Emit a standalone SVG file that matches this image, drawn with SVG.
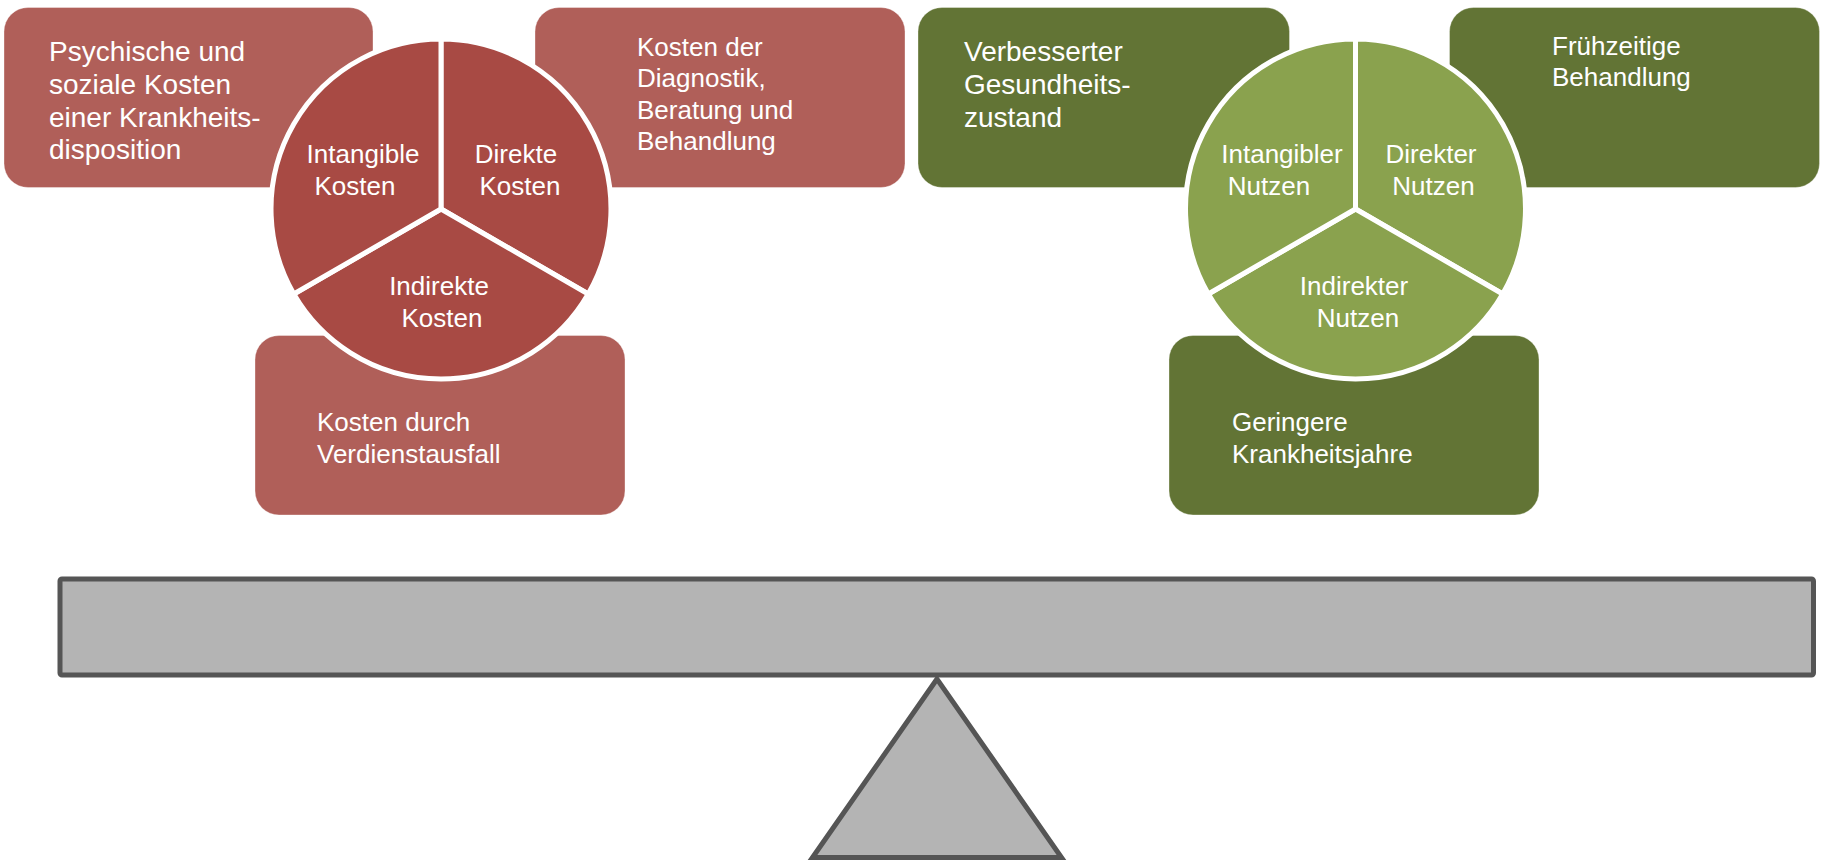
<svg xmlns="http://www.w3.org/2000/svg" width="1823" height="861" viewBox="0 0 1823 861">
<style>
.t{font-family:"Liberation Sans",Arial,sans-serif;fill:#ffffff}
.s26{font-size:26px}
.s28{font-size:28px}
.m{text-anchor:middle}
.rbox{fill:#B05F59;stroke:#ffffff;stroke-opacity:0.35;stroke-width:1}
.gbox{fill:#627435;stroke:#ffffff;stroke-opacity:0.35;stroke-width:1}
.rpie{fill:#A84A44;stroke:#ffffff;stroke-width:5;stroke-linejoin:round}
.gpie{fill:#8AA24E;stroke:#ffffff;stroke-width:5;stroke-linejoin:round}
.base{fill:#B4B4B4;stroke:#555555;stroke-width:5}
</style>
<rect width="1823" height="861" fill="#ffffff"/>

<g id="box-psychische">
<rect class="rbox" x="4" y="7.5" width="369" height="180" rx="24"/>
<text class="t s28"><tspan x="49" y="61">Psychische und</tspan><tspan x="49" y="93.5">soziale Kosten</tspan><tspan x="49" y="126.5">einer Krankheits-</tspan><tspan x="49" y="159">disposition</tspan></text>
</g>
<g id="box-diagnostik">
<rect class="rbox" x="535" y="7.5" width="370" height="180" rx="24"/>
<text class="t s26"><tspan x="637" y="55.5">Kosten der</tspan><tspan x="637" y="87">Diagnostik,</tspan><tspan x="637" y="118.5">Beratung und</tspan><tspan x="637" y="150">Behandlung</tspan></text>
</g>
<g id="box-verdienstausfall">
<rect class="rbox" x="255" y="335.5" width="370" height="179.5" rx="24"/>
<text class="t s26"><tspan x="317" y="430.5">Kosten durch</tspan><tspan x="317" y="462.5">Verdienstausfall</tspan></text>
</g>

<g id="box-gesundheit">
<rect class="gbox" x="918" y="7.5" width="371.5" height="180" rx="24"/>
<text class="t s28"><tspan x="964" y="61">Verbesserter</tspan><tspan x="964" y="93.5">Gesundheits-</tspan><tspan x="964" y="126.5">zustand</tspan></text>
</g>
<g id="box-fruehzeitig">
<rect class="gbox" x="1449.5" y="7.5" width="370" height="180" rx="24"/>
<text class="t s26"><tspan x="1552" y="55">Frühzeitige</tspan><tspan x="1552" y="86">Behandlung</tspan></text>
</g>
<g id="box-krankheitsjahre">
<rect class="gbox" x="1169" y="335.5" width="370" height="179.5" rx="24"/>
<text class="t s26"><tspan x="1232" y="430.5">Geringere</tspan><tspan x="1232" y="462.5">Krankheitsjahre</tspan></text>
</g>

<g id="pie-kosten">
<g id="kosten-direkt">
<path class="rpie" d="M441 209 L441 39 A170 170 0 0 1 588.2 294 Z"/>
<text class="t s26 m"><tspan x="516" y="163">Direkte</tspan><tspan x="520" y="195">Kosten</tspan></text>
</g>
<g id="kosten-indirekt">
<path class="rpie" d="M441 209 L588.2 294 A170 170 0 0 1 293.8 294 Z"/>
<text class="t s26 m"><tspan x="439" y="295">Indirekte</tspan><tspan x="442" y="327">Kosten</tspan></text>
</g>
<g id="kosten-intangibel">
<path class="rpie" d="M441 209 L293.8 294 A170 170 0 0 1 441 39 Z"/>
<text class="t s26 m"><tspan x="363" y="163">Intangible</tspan><tspan x="355" y="195">Kosten</tspan></text>
</g>
</g>

<g id="pie-nutzen">
<g id="nutzen-direkt">
<path class="gpie" d="M1355.5 209 L1355.5 39 A170 170 0 0 1 1502.7 294 Z"/>
<text class="t s26 m"><tspan x="1431" y="163">Direkter</tspan><tspan x="1433.5" y="195">Nutzen</tspan></text>
</g>
<g id="nutzen-indirekt">
<path class="gpie" d="M1355.5 209 L1502.7 294 A170 170 0 0 1 1208.3 294 Z"/>
<text class="t s26 m"><tspan x="1354" y="295">Indirekter</tspan><tspan x="1358" y="327">Nutzen</tspan></text>
</g>
<g id="nutzen-intangibel">
<path class="gpie" d="M1355.5 209 L1208.3 294 A170 170 0 0 1 1355.5 39 Z"/>
<text class="t s26 m"><tspan x="1282" y="163">Intangibler</tspan><tspan x="1269" y="195">Nutzen</tspan></text>
</g>
</g>

<g id="waage">
<polygon id="fulcrum" class="base" points="937,679 812.5,857.5 1061.5,857.5" stroke-linejoin="miter"/>
<rect id="beam" class="base" x="60" y="579" width="1753.5" height="96" rx="2"/>
</g>
</svg>
